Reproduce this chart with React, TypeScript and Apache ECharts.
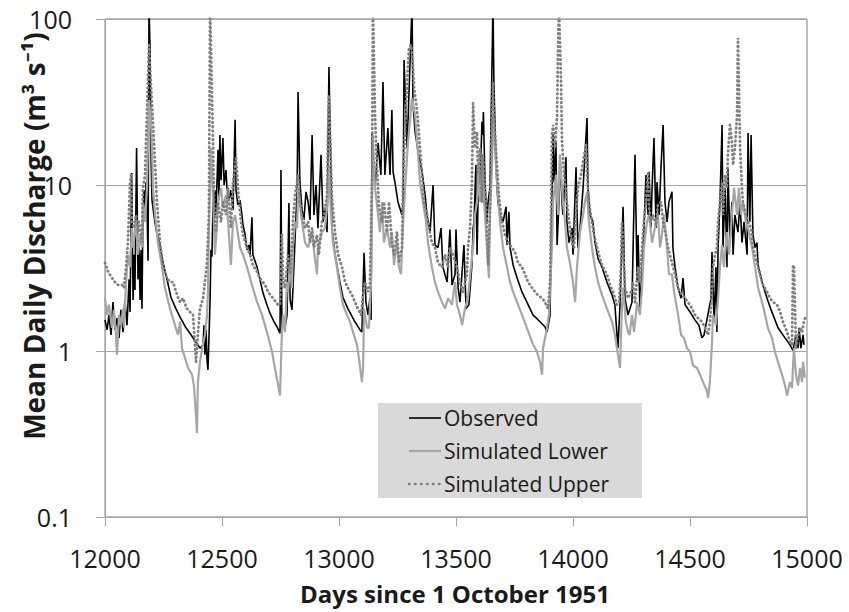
import React, { useEffect, useRef } from "react";
import * as echarts from "echarts";

const FONT = "'Open Sans', 'Noto Sans', sans-serif";

const xTicks = [12000, 12500, 13000, 13500, 14000, 14500, 15000];
const yTicks = [0.1, 1, 10, 100];

const seriesNames = ["Observed", "Simulated Lower", "Simulated Upper"];

const observed: [number, number][] = [
  [12000,1.54],[12009,1.34],[12017,1.65],[12026,1.25],[12034,1.97],[12043,1.34],[12051,1.58],[12060,1.2],[12068,1.77],[12077,1.3],
  [12085,2.03],[12094,1.43],[12103,2.7],[12107,1.72],[12114,11.8],[12120,2.03],[12124,3.8],[12128,2.33],[12135,16.7],[12141,2.7],
  [12145,4.66],[12150,2.03],[12154,4.06],[12158,1.8],[12162,6.6],[12167,9.3],[12171,7.07],[12175,10.4],[12179,8.1],[12184,3.5],
  [12188,120],[12192,71.6],[12197,14.1],[12201,8.1],[12209,6.6],[12218,5.4],[12235,4.35],[12248,3.4],[12265,2.7],[12282,2.1],
  [12303,1.8],[12321,1.6],[12346,1.38],[12363,1.28],[12389,1.13],[12406,1.04],[12419,1.09],[12423,1.43],[12427,0.95],[12432,1.34],
  [12436,0.88],[12440,0.77],[12444,1.16],
  [12449,2.03],[12453,4.06],[12457,3.7],[12462,8.1],[12466,5.4],[12470,9.3],[12474,6.6],[12483,16.3],[12487,8.1],[12491,20],
  [12496,10.7],[12500,14.1],[12504,19.2],[12509,10],[12517,12.3],[12521,9.7],[12530,8.1],[12538,9.3],[12547,7.07],[12556,24.7],
  [12560,9.3],[12568,7.6],[12577,8.1],[12585,6.6],[12590,5.7],[12598,5.1],[12607,4.06],[12615,4.35],[12620,3.8],[12628,6.4],
  [12632,3.8],[12650,3.2],[12662,2.7],[12675,2.24],[12692,1.9],[12705,1.69],[12722,1.5],[12735,1.4],[12748,1.28],[12752,12.3],
  [12756,1.34],[12761,1.54],[12769,1.38],[12778,1.65],[12786,7.8],[12791,2.03],[12799,1.77],[12803,2.33],[12812,4.66],[12821,9.3],
  [12825,36.3],[12833,10.4],[12842,7.07],[12850,6.16],[12859,9.1],[12868,7.9],[12876,6.16],[12885,20],[12893,6.6],[12902,10],
  [12910,5.5],[12923,15.2],[12932,6.0],[12940,7.3],[12949,5.2],[12957,51.4],[12966,10.7],[12970,5.5],[12983,3.8],[13004,2.6],
  [13017,2.1],[13038,1.8],[13068,1.5],[13090,1.34],[13098,1.3],[13107,3.9],[13115,1.97],[13124,1.65],[13132,2.08],[13137,1.54],
  [13141,20.6],[13154,9.6],[13167,17.9],[13179,11.5],[13188,41.7],[13196,11.5],[13209,22],[13218,11.5],[13226,28.3],[13231,12],
  [13239,10.4],[13252,7.9],[13269,6.6],[13274,7.6],[13278,56.6],[13291,16.7],[13312,120],[13316,31.6],[13325,20.9],[13338,16],
  [13355,12],[13368,8.7],[13376,6.6],[13389,5.2],[13402,10],[13410,4.35],[13423,4.2],[13436,5.5],[13444,3.2],[13462,2.6],
  [13474,5.4],[13483,2.5],[13496,2.9],[13500,5.4],[13509,2.4],[13517,1.97],[13534,4.35],[13543,1.8],[13555,1.9],[13568,3.3],
  [13573,5.5],[13577,6.0],[13585,13.2],[13590,3.8],[13594,7.9],[13603,10.4],[13611,24],[13615,20],[13617,27.5],[13624,10.4],
  [13632,6.0],[13637,7.9],[13645,9.6],[13658,120],[13662,41.7],[13671,13.2],[13679,7.9],[13688,6.6],[13701,6.0],[13714,7.4],
  [13718,4.35],[13726,6.9],[13731,4.2],[13744,3.3],[13761,2.75],[13782,2.27],[13803,1.97],[13829,1.65],[13859,1.5],[13880,1.4],
  [13889,1.3],[13902,1.65],[13906,4.35],[13915,20],[13919,10.4],[13927,18.2],[13932,4.35],[13940,7.9],[13944,15.2],[13953,7.9],
  [13957,6.6],[13970,14.7],[13974,6.0],[13983,4.5],[13996,5.5],[14000,3.8],[14013,12.8],[14021,4.2],[14030,5.5],[14043,9.6],
  [14051,15.2],[14060,25.3],[14064,9.6],[14073,6.6],[14085,6.0],[14094,4.5],[14107,3.6],[14124,3.2],[14145,2.6],[14167,2.17],
  [14179,1.9],[14192,1.04],[14201,1.9],[14214,7.4],[14222,2.08],[14235,1.65],[14252,1.97],[14265,15.2],[14274,2.6],[14278,5.0],
  [14286,1.8],[14299,3.8],[14312,11.5],[14321,6.6],[14325,12],[14333,5.5],[14338,9.6],[14346,19.2],[14355,5.5],[14359,10.4],
  [14368,6.6],[14376,12.7],[14385,23],[14393,7.9],[14402,6.0],[14410,7.9],[14423,9.1],[14427,4.2],[14436,3.2],[14449,2.4],
  [14462,2.08],[14470,2.75],[14479,1.9],[14500,1.72],[14521,1.54],[14538,1.43],[14551,1.2],[14560,1.25],[14590,2.08],[14594,3.95],
  [14603,1.5],[14611,3.2],[14615,1.3],[14620,4.2],[14628,7.9],[14637,23],[14641,4.2],[14650,9.6],[14658,3.2],[14662,12.7],
  [14671,4.5],[14679,7.9],[14684,3.8],[14692,6.6],[14705,5.2],[14714,7.9],[14722,4.5],[14731,6.0],[14744,3.8],[14748,20.6],
  [14756,6.0],[14761,20],[14769,5.0],[14778,4.2],[14786,4.5],[14791,3.3],[14808,2.6],[14829,2.08],[14850,1.72],[14876,1.38],
  [14906,1.2],[14927,1.09],[14940,1.01],[14953,1.25],[14962,1.04],[14966,1.38],[14974,1.04],[14983,1.25],[14987,1.09]
];

const simLower: [number, number][] = [
  [12000,2.08],[12009,1.65],[12017,1.9],[12030,1.38],[12038,1.77],[12047,1.25],[12051,0.95],[12060,1.65],[12068,1.43],[12077,1.8],
  [12081,1.38],[12090,2.6],[12098,3.8],[12107,3.2],[12115,5.5],[12120,4.2],[12132,6.0],[12141,3.8],[12150,5.0],[12158,4.2],
  [12162,7.9],[12171,6.0],[12179,9.6],[12184,18.2],[12188,32.5],[12197,23],[12201,16.7],[12205,9.6],[12214,6.6],[12226,4.5],
  [12244,3.2],[12256,2.4],[12278,1.8],[12299,1.43],[12312,1.25],[12321,1.5],[12329,1.04],[12342,0.91],[12355,0.79],[12372,0.72],
  [12380,0.62],[12389,0.41],[12393,0.32],[12397,0.65],[12406,0.86],[12415,1.04],[12427,1.25],[12436,1.65],[12440,2.27],[12444,5.4],
  [12453,16.7],[12462,8.4],[12470,3.8],[12479,6.0],[12483,7.9],[12496,9.6],[12504,7.3],[12517,8.7],[12526,6.0],[12538,3.3],
  [12547,6.0],[12556,6.6],[12564,5.5],[12577,4.2],[12590,3.8],[12607,3.2],[12628,2.5],[12650,1.97],[12671,1.65],[12692,1.3],
  [12714,0.99],[12726,0.79],[12748,0.54],[12756,1.3],[12761,1.65],[12769,1.3],[12778,2.6],[12782,2.27],[12791,3.3],[12799,2.4],
  [12803,4.2],[12812,6.0],[12821,5.5],[12825,9.6],[12842,6.0],[12855,4.5],[12868,4.2],[12885,5.2],[12897,3.6],[12906,2.9],
  [12910,4.2],[12927,5.2],[12940,5.5],[12953,8.4],[12957,13.2],[12966,6.6],[12974,4.5],[12991,3.2],[13004,2.4],[13017,1.9],
  [13034,1.65],[13047,1.5],[13060,1.3],[13077,1.09],[13085,0.91],[13094,0.72],[13098,0.65],[13103,0.79],[13107,1.8],[13120,1.38],
  [13128,1.38],[13137,2.6],[13145,20],[13154,9.6],[13167,6.6],[13175,5.2],[13184,7.9],[13192,4.5],[13205,5.5],[13218,4.2],
  [13226,5.2],[13235,3.3],[13248,4.5],[13256,3.2],[13265,2.9],[13274,6.0],[13286,11.5],[13295,18.2],[13312,33.4],[13325,26.4],
  [13338,15.2],[13346,10.4],[13359,7.9],[13372,6.0],[13380,4.5],[13397,3.2],[13410,2.6],[13423,2.27],[13440,1.97],[13453,1.8],
  [13466,2.08],[13483,1.9],[13496,2.6],[13504,1.9],[13517,1.65],[13526,1.43],[13538,1.8],[13551,2.08],[13564,3.2],[13573,4.2],
  [13581,6.6],[13590,7.9],[13594,11.5],[13603,7.9],[13611,13.2],[13615,9.6],[13624,6.6],[13632,4.2],[13641,2.75],[13645,6.6],
  [13654,13.2],[13658,26.4],[13675,10.4],[13688,6.0],[13701,4.2],[13718,3.2],[13731,2.6],[13744,2.27],[13761,1.97],[13782,1.65],
  [13803,1.38],[13825,1.13],[13846,0.99],[13859,0.86],[13868,0.72],[13872,1.04],[13889,1.38],[13897,1.65],[13910,4.2],[13915,7.9],
  [13927,11.5],[13936,6.6],[13944,15.2],[13957,7.9],[13966,6.0],[13974,4.2],[13987,3.4],[14000,2.6],[14009,1.97],[14017,3.2],
  [14030,5.2],[14043,6.6],[14051,7.9],[14060,9.1],[14068,6.0],[14081,4.2],[14094,3.2],[14107,2.6],[14124,2.17],[14145,1.8],
  [14167,1.5],[14179,1.25],[14192,0.95],[14201,0.79],[14209,1.8],[14214,2.4],[14226,1.5],[14235,1.3],[14242,1.25],[14252,1.65],
  [14261,1.3],[14274,1.97],[14286,1.65],[14295,2.4],[14303,4.2],[14316,6.0],[14325,6.6],[14338,4.5],[14350,5.5],[14363,6.6],
  [14372,4.2],[14380,5.0],[14389,6.6],[14402,4.2],[14410,2.9],[14423,2.9],[14432,2.27],[14449,1.65],[14462,1.25],[14474,1.2],
  [14487,1.04],[14500,0.99],[14513,0.82],[14530,0.79],[14543,0.72],[14556,0.65],[14573,0.57],[14577,0.52],[14585,0.65],[14594,1.13],
  [14598,1.65],[14611,1.43],[14620,2.08],[14628,3.2],[14637,4.35],[14645,3.2],[14658,5.2],[14667,3.8],[14679,6.6],[14688,9.6],
  [14701,6.6],[14709,9.6],[14718,6.6],[14726,7.9],[14739,6.0],[14748,5.5],[14765,4.2],[14778,3.2],[14791,2.4],[14808,1.97],
  [14821,1.65],[14833,1.38],[14850,1.2],[14863,0.99],[14876,0.86],[14893,0.72],[14906,0.62],[14915,0.54],[14927,0.65],[14936,0.6],
  [14944,1.04],[14953,0.72],[14962,0.62],[14970,0.79],[14979,0.65],[14983,0.86],[14991,0.69]
];

const simUpper: [number, number][] = [
  [12000,3.4],[12013,3.0],[12030,2.75],[12043,2.6],[12056,2.5],[12073,2.5],[12081,2.4],[12090,3.2],[12098,4.5],[12107,10.4],
  [12111,11.5],[12115,6.0],[12124,5.5],[12132,6.6],[12141,5.2],[12145,6.0],[12158,4.5],[12162,9.6],[12171,11.5],[12179,26.4],
  [12188,69.6],[12197,38.4],[12205,24],[12214,13.2],[12222,7.9],[12235,4.5],[12248,3.2],[12265,2.75],[12278,2.6],[12291,2.6],
  [12308,2.17],[12321,1.97],[12333,2.08],[12350,1.8],[12363,1.72],[12376,1.65],[12389,0.86],[12397,1.25],[12406,1.8],[12419,2.08],
  [12427,2.6],[12436,3.4],[12444,6.6],[12449,120],[12453,66.9],[12462,16.7],[12466,7.9],[12474,5.2],[12483,7.9],[12496,6.0],
  [12504,7.9],[12517,6.6],[12526,9.6],[12538,5.5],[12547,10.4],[12560,14.5],[12568,9.6],[12581,6.0],[12590,5.0],[12607,4.2],
  [12620,3.8],[12632,3.3],[12650,3.0],[12662,2.75],[12684,2.5],[12697,2.27],[12718,2.08],[12739,1.9],[12748,1.9],[12756,5.0],
  [12761,2.6],[12769,2.4],[12782,3.8],[12791,2.9],[12799,4.2],[12803,6.0],[12812,8.7],[12821,10.4],[12825,11.5],[12833,7.9],
  [12842,6.6],[12855,5.5],[12868,6.0],[12876,4.5],[12885,5.5],[12893,4.2],[12906,5.0],[12914,3.8],[12927,6.0],[12936,6.6],
  [12949,8.7],[12953,20.9],[12957,34.8],[12966,13.2],[12970,8.4],[12983,5.2],[12996,3.8],[13013,3.2],[13026,2.6],[13038,2.4],
  [13056,2.17],[13068,1.97],[13081,1.8],[13094,1.65],[13103,2.17],[13111,2.6],[13124,2.27],[13132,2.5],[13141,10.4],[13145,120],
  [13154,26.4],[13162,13.2],[13171,7.3],[13184,6.0],[13192,7.9],[13205,5.2],[13214,7.9],[13226,4.5],[13235,3.8],[13248,5.2],
  [13256,3.4],[13269,4.2],[13274,10.4],[13282,20.9],[13291,41.7],[13299,66.9],[13308,69.6],[13316,52.8],[13321,38.4],[13329,31.6],
  [13338,24],[13346,16.7],[13355,11.5],[13363,7.9],[13376,6.6],[13385,5.5],[13397,4.5],[13410,4.2],[13423,3.4],[13440,3.2],
  [13453,3.8],[13466,3.2],[13474,4.2],[13487,3.8],[13504,3.2],[13517,2.6],[13530,2.27],[13547,2.9],[13551,4.2],[13560,5.5],
  [13568,10.4],[13573,31.1],[13581,16.7],[13590,20.9],[13594,11.5],[13603,16.7],[13611,7.9],[13615,15.2],[13624,9.6],[13632,6.0],
  [13637,3.3],[13645,6.6],[13650,16.7],[13658,41.7],[13662,26.4],[13675,13.2],[13684,8.4],[13697,6.0],[13709,5.0],[13722,4.5],
  [13739,4.2],[13752,3.95],[13765,3.4],[13782,3.2],[13795,2.9],[13808,2.6],[13825,2.4],[13838,2.27],[13850,2.17],[13868,2.08],
  [13880,1.97],[13893,1.8],[13902,2.6],[13906,6.6],[13910,20],[13915,23],[13923,16.7],[13932,26.4],[13936,66.9],[13940,120],
  [13949,41.7],[13953,18.2],[13962,11.5],[13974,7.9],[13983,6.0],[13996,4.5],[14004,4.2],[14013,6.6],[14021,9.6],[14034,11.5],
  [14043,13.8],[14056,17.4],[14060,11.5],[14068,7.9],[14081,6.0],[14090,5.0],[14103,4.2],[14115,3.6],[14128,3.2],[14145,2.9],
  [14158,2.5],[14171,2.27],[14188,1.9],[14197,1.97],[14205,3.2],[14209,6.0],[14214,4.5],[14222,2.4],[14235,2.08],[14252,2.33],
  [14256,2.6],[14265,1.97],[14278,3.2],[14286,2.6],[14295,4.2],[14303,6.0],[14312,7.9],[14321,12],[14325,7.3],[14333,6.0],
  [14342,6.6],[14355,5.7],[14363,7.6],[14376,7.9],[14385,6.0],[14397,5.0],[14406,4.2],[14423,3.4],[14436,2.9],[14449,2.4],
  [14466,2.17],[14479,2.08],[14491,1.97],[14509,1.8],[14521,1.65],[14534,1.58],[14551,1.5],[14564,1.38],[14577,1.25],[14585,1.5],
  [14594,2.17],[14598,3.2],[14607,3.8],[14615,4.2],[14620,6.0],[14628,7.9],[14637,10.4],[14641,6.6],[14650,11.5],[14658,9.6],
  [14662,15.2],[14671,23],[14679,18.2],[14684,13.2],[14692,16.7],[14701,26.4],[14705,76.8],[14709,41.7],[14714,16.7],[14722,9.6],
  [14726,7.9],[14739,6.6],[14748,6.0],[14761,5.5],[14769,4.2],[14786,3.4],[14799,2.9],[14812,2.5],[14829,2.27],[14842,2.08],
  [14855,1.97],[14872,1.9],[14885,1.72],[14897,1.5],[14915,1.3],[14927,1.13],[14936,1.09],[14940,3.2],[14944,3.3],[14953,1.04],
  [14962,1.25],[14970,1.38],[14979,1.3],[14987,1.5],[14996,1.65]
];

const BLACK = { stroke: "#000000", lineWidth: 1.6 };
const LOWER = { stroke: "#a6a6a6", lineWidth: 2.2 };
const UPPER = { stroke: "#808080", lineWidth: 2.6, lineDash: [0.5, 5.5], lineCap: "round" };

export default function App() {
  const ref = useRef<HTMLDivElement>(null);

  useEffect(() => {
    document.body.style.margin = "0";
    if (!ref.current) return;
    const chart = echarts.init(ref.current, undefined, { renderer: "svg" });
    const fmt = (v: number) => {
      const t = yTicks.find((k) => Math.abs(k - v) / k < 1e-6);
      return t !== undefined ? String(t) : "";
    };
    const legendStyles = [BLACK, LOWER, UPPER];
    const legendRows = [418, 451, 484];
    const legendGraphics: any[] = [];
    seriesNames.forEach((name, i) => {
      legendGraphics.push({
        type: "line",
        shape: { x1: 409, y1: legendRows[i], x2: 441, y2: legendRows[i] },
        style: { ...legendStyles[i], fill: null },
        z: 10,
      });
      legendGraphics.push({
        type: "text",
        x: 444,
        y: legendRows[i],
        style: {
          text: name,
          font: `21px ${FONT}`,
          fill: "#1a1a1a",
          align: "left",
          verticalAlign: "middle",
        },
        z: 10,
      });
    });

    chart.setOption({
      animation: false,
      backgroundColor: "#ffffff",
      textStyle: { fontFamily: FONT },
      grid: {
        left: 105,
        right: 42,
        top: 19,
        bottom: 95,
        show: true,
        borderColor: "#7f7f7f",
        borderWidth: 1,
        backgroundColor: "transparent",
      },
      xAxis: {
        type: "value",
        min: xTicks[0],
        max: xTicks[xTicks.length - 1],
        interval: 500,
        axisLine: { show: true, onZero: false, lineStyle: { color: "#a6a6a6", width: 1 } },
        axisTick: { show: true, inside: false, length: 9, lineStyle: { color: "#a6a6a6" } },
        splitLine: { show: false },
        axisLabel: {
          margin: 28,
          fontSize: 25,
          color: "#1a1a1a",
          fontFamily: FONT,
          formatter: (v: number) => String(v),
        },
      },
      yAxis: {
        type: "log",
        logBase: 10,
        min: yTicks[0],
        max: yTicks[yTicks.length - 1],
        axisLine: { show: true, lineStyle: { color: "#a6a6a6", width: 1 } },
        axisTick: { show: true, inside: false, length: 9, lineStyle: { color: "#a6a6a6" } },
        splitLine: { show: true, lineStyle: { color: "#a6a6a6", width: 1 } },
        minorTick: { show: false },
        axisLabel: {
          margin: 33,
          fontSize: 25,
          color: "#1a1a1a",
          fontFamily: FONT,
          formatter: fmt,
        },
      },
      legend: { show: false },
      graphic: [
        {
          type: "rect",
          shape: { x: 378, y: 403, width: 264, height: 95 },
          style: { fill: "#d9d9d9" },
          z: 9,
        },
        ...legendGraphics,
        {
          type: "text",
          x: 455,
          y: 593,
          style: {
            text: "Days since 1 October 1951",
            font: `bold 24px ${FONT}`,
            fill: "#1a1a1a",
            align: "center",
            verticalAlign: "middle",
          },
        },
        {
          type: "text",
          x: 34,
          y: 236,
          rotation: Math.PI / 2,
          style: {
            text: "Mean Daily Discharge (m³ s⁻¹)",
            font: `bold 28px ${FONT}`,
            fill: "#1a1a1a",
            align: "center",
            verticalAlign: "middle",
          },
        },
      ],
      series: [
        {
          name: seriesNames[0],
          type: "line",
          data: observed,
          symbol: "none",
          showSymbol: false,
          clip: true,
          lineStyle: { color: "#000000", width: 1.6 },
          itemStyle: { color: "#000000" },
          z: 3,
        },
        {
          name: seriesNames[1],
          type: "line",
          data: simLower,
          symbol: "none",
          showSymbol: false,
          clip: true,
          lineStyle: { color: "#a6a6a6", width: 2.2 },
          itemStyle: { color: "#a6a6a6" },
          z: 4,
        },
        {
          name: seriesNames[2],
          type: "line",
          data: simUpper,
          symbol: "none",
          showSymbol: false,
          clip: true,
          lineStyle: { color: "#808080", width: 2.8, type: [0.5, 3.8], cap: "round" },
          itemStyle: { color: "#808080" },
          z: 5,
        },
      ],
    });
    return () => chart.dispose();
  }, []);

  return <div ref={ref} style={{ width: 849, height: 612 }} />;
}
